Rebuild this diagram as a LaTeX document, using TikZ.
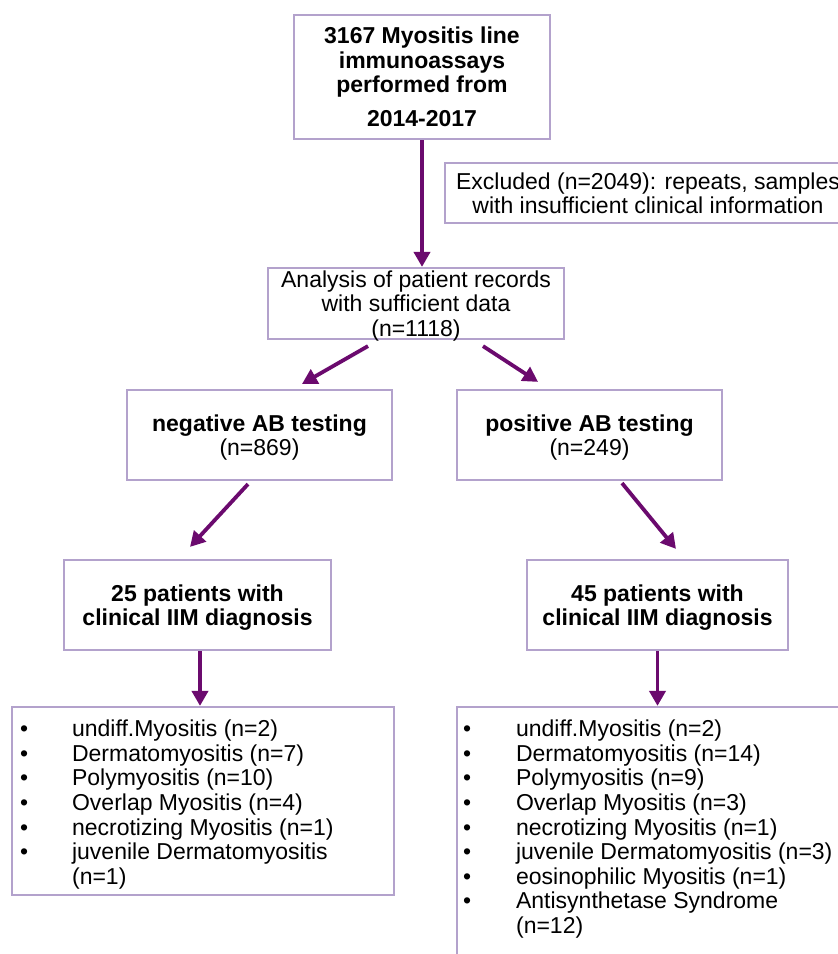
\documentclass[tikz,border=0pt]{standalone}
\usepackage{fontspec}
\setmainfont{Liberation Sans}
\usetikzlibrary{calc,arrows.meta}
\definecolor{boxc}{HTML}{B3A2CC}
\definecolor{arrc}{HTML}{6B0A6E}
\newcommand\myfs{\fontsize{23}{24.6}\selectfont}
\begin{document}
\begin{tikzpicture}[x=1pt,y=-1pt,
  box/.style={draw=boxc, line width=2.2pt, inner sep=0pt, align=center, font=\myfs, text depth=-1.2pt},
  listtext/.style={anchor=north west, inner sep=0pt, align=left, font=\myfs},
  arr/.style={draw=arrc, line width=3.8pt, -{Triangle[length=15pt,width=16pt]}}]
\useasboundingbox (0,0) rectangle (838,954);
\clip (0,0) rectangle (838,954);
\fill[white] (0,0) rectangle (838,954);

\node[box, text depth=-7pt, minimum width=256pt, minimum height=124pt] (top) at (422,77)
  {\bfseries 3167 Myositis line\\\bfseries immunoassays\\\bfseries performed from\\[9.5pt]\bfseries 2014-2017};
\node[box, text depth=-5.5pt, minimum width=406pt, minimum height=60pt] (excl) at (648,193)
  {Excluded (n=2049): repeats, samples\\with insufficient clinical information};
\node[box, minimum width=296pt, minimum height=71pt] (ana) at (416,303.5)
  {Analysis of patient records\\with sufficient data\\(n=1118)};
\node[box, minimum width=265pt, minimum height=90pt] (neg) at (259.5,435)
  {\bfseries negative AB testing\\(n=869)};
\node[box, minimum width=265pt, minimum height=90pt] (pos) at (589.5,435)
  {\bfseries positive AB testing\\(n=249)};
\node[box, minimum width=267pt, minimum height=90pt] (p25) at (197.5,605)
  {\bfseries 25 patients with\\\bfseries clinical IIM diagnosis};
\node[box, minimum width=261pt, minimum height=90pt] (p45) at (657.5,605)
  {\bfseries 45 patients with\\\bfseries clinical IIM diagnosis};
\node[box, minimum width=382pt, minimum height=188pt] (lbox) at (203,801) {};
\node[box, minimum width=420pt, minimum height=280pt] (rbox) at (667,847) {};

\node[listtext] (ltext) at ($(lbox.north west)+(9,14)$)
  {\makebox[52pt][l]{•}undiff.Myositis (n=2)\\
   \makebox[52pt][l]{•}Dermatomyositis (n=7)\\
   \makebox[52pt][l]{•}Polymyositis (n=10)\\
   \makebox[52pt][l]{•}Overlap Myositis (n=4)\\
   \makebox[52pt][l]{•}necrotizing Myositis (n=1)\\
   \makebox[52pt][l]{•}juvenile Dermatomyositis\\
   \hspace*{52pt}(n=1)};
\node[listtext] (rtext) at ($(rbox.north west)+(7,14)$)
  {\makebox[53pt][l]{•}undiff.Myositis (n=2)\\
   \makebox[53pt][l]{•}Dermatomyositis (n=14)\\
   \makebox[53pt][l]{•}Polymyositis (n=9)\\
   \makebox[53pt][l]{•}Overlap Myositis (n=3)\\
   \makebox[53pt][l]{•}necrotizing Myositis (n=1)\\
   \makebox[53pt][l]{•}juvenile Dermatomyositis (n=3)\\
   \makebox[53pt][l]{•}eosinophilic Myositis (n=1)\\
   \makebox[53pt][l]{•}Antisynthetase Syndrome\\
   \hspace*{53pt}(n=12)};

\draw[arr] (top.south) -- (top.south |- ana.north);
\draw[arr] ($(ana.south)+(-48,6)$) -- ($(neg.north)+(42.5,-5)$);
\draw[arr] ($(ana.south)+(67,6)$) -- ($(pos.north)+(-51.5,-7)$);
\draw[arr] ($(neg.south)+(-11.5,3)$) -- ($(p25.north)+(-7.5,-12)$);
\draw[arr] ($(pos.south)+(32.5,2)$) -- ($(p45.north)+(18.5,-10)$);
\draw[arr] ($(p25.south)+(2.5,0)$) -- ($(p25.south |- lbox.north)+(2.5,0)$);
\draw[arr] (p45.south) -- (p45.south |- rbox.north);
\end{tikzpicture}
\end{document}
